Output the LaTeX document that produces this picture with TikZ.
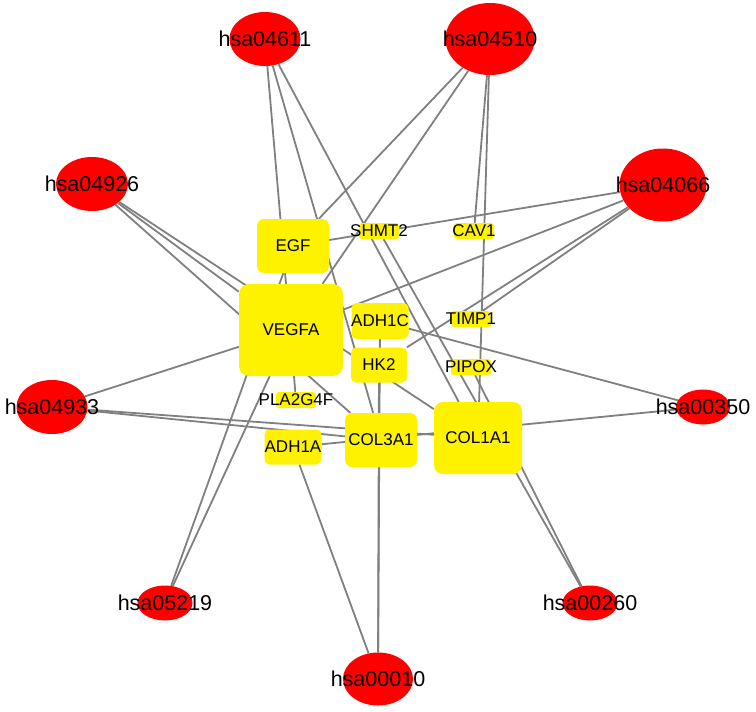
\documentclass[tikz,border=0pt]{standalone}
\usepackage{fontspec}
\setmainfont{Liberation Sans}
\usepackage{tikz}
\usetikzlibrary{shapes}
\pgfdeclarelayer{edges}
\pgfsetlayers{edges,main}
\tikzstyle{pathway} = [ellipse, fill=red, inner sep=0pt, font=\fontsize{21.5}{24}\selectfont]
\tikzstyle{gene} = [rectangle, fill=yellow, rounded corners=7pt, inner sep=0pt, font=\fontsize{17}{20}\selectfont]
\tikzstyle{genesmall} = [gene, rounded corners=3pt, minimum width=40pt, minimum height=16pt]
\tikzstyle{link} = [draw, black!50, line width=1.8pt]

\begin{document}
\begin{tikzpicture}[x=1pt, y=-1pt]
        \useasboundingbox (0,0) rectangle (756,712);

        % pathways
        \node [pathway, minimum width=71pt, minimum height=54pt] (hsa04611) at (265,39) {\makebox[0pt]{hsa04611}};
        \node [pathway, minimum width=89pt, minimum height=72pt] (hsa04510) at (490,39) {\makebox[0pt]{hsa04510}};
        \node [pathway, minimum width=87pt, minimum height=73pt] (hsa04066) at (663,185) {\makebox[0pt]{hsa04066}};
        \node [pathway, minimum width=72pt, minimum height=54pt] (hsa04926) at (92,184) {\makebox[0pt]{hsa04926}};
        \node [pathway, minimum width=71pt, minimum height=54pt] (hsa04933) at (52,407) {\makebox[0pt]{hsa04933}};
        \node [pathway, minimum width=55pt, minimum height=35pt] (hsa05219) at (165,603) {\makebox[0pt]{hsa05219}};
        \node [pathway, minimum width=70pt, minimum height=53pt] (hsa00010) at (378,679) {\makebox[0pt]{hsa00010}};
        \node [pathway, minimum width=55pt, minimum height=35pt] (hsa00260) at (590,603) {\makebox[0pt]{hsa00260}};
        \node [pathway, minimum width=54pt, minimum height=35pt] (hsa00350) at (703,407) {\makebox[0pt]{hsa00350}};

        % genes
        \node [gene, minimum width=104pt, minimum height=92pt, rounded corners=10pt] (vegfa) at (291,330) {\makebox[0pt]{VEGFA}};
        \node [gene, minimum width=88pt, minimum height=72pt, rounded corners=9pt] (col1a1) at (478,438) {\makebox[0pt]{COL1A1}};
        \node [gene, minimum width=72pt, minimum height=54pt] (egf) at (293,246) {\makebox[0pt]{EGF}};
        \node [gene, minimum width=72pt, minimum height=54pt] (col3a1) at (381,440) {\makebox[0pt]{COL3A1}};
        \node [gene, minimum width=57pt, minimum height=36pt, rounded corners=5pt] (adh1c) at (380,321) {\makebox[0pt]{ADH1C}};
        \node [gene, minimum width=56pt, minimum height=35pt, rounded corners=5pt] (hk2) at (379,365) {\makebox[0pt]{HK2}};
        \node [gene, minimum width=57pt, minimum height=35pt, rounded corners=5pt] (adh1a) at (293,447) {\makebox[0pt]{ADH1A}};
        \node [genesmall] (shmt2) at (379,231) {\makebox[0pt]{SHMT2}};
        \node [genesmall] (cav1) at (474,231) {\makebox[0pt]{CAV1}};
        \node [genesmall] (timp1) at (471,319) {\makebox[0pt]{TIMP1}};
        \node [genesmall] (pipox) at (471,367) {\makebox[0pt]{PIPOX}};
        \node [genesmall] (pla2g4f) at (296,400) {\makebox[0pt]{PLA2G4F}};

        \begin{pgfonlayer}{edges}
        \path [link] (hsa04611) -- (pla2g4f);
        \path [link] (hsa04611) -- (col3a1);
        \path [link] (hsa04611) -- (col1a1);
        \path [link] (hsa04510) -- (egf);
        \path [link] (hsa04510) -- (vegfa);
        \path [link] (hsa04510) -- (cav1);
        \path [link] (hsa04510) -- (col1a1);
        \path [link] (hsa04066) -- (egf);
        \path [link] (hsa04066) -- (vegfa);
        \path [link] (hsa04066) -- (hk2);
        \path [link] (hsa04066) -- (timp1);
        \path [link] (hsa04926) -- (vegfa);
        \path [link] (hsa04926) -- (col1a1);
        \path [link] (hsa04926) -- (col3a1);
        \path [link] (hsa04933) -- (vegfa);
        \path [link] (hsa04933) -- (col3a1);
        \path [link] (hsa04933) -- (col1a1);
        \path [link] (hsa05219) -- (vegfa);
        \path [link] (hsa05219) -- (egf);
        \path [link] (hsa00010) -- (hk2);
        \path [link] (hsa00010) -- (adh1c);
        \path [link] (hsa00010) -- (adh1a);
        \path [link] (hsa00260) -- (shmt2);
        \path [link] (hsa00260) -- (pipox);
        \path [link] (hsa00350) -- (adh1a);
        \path [link] (hsa00350) -- (adh1c);
        \end{pgfonlayer}
\end{tikzpicture}
\end{document}
